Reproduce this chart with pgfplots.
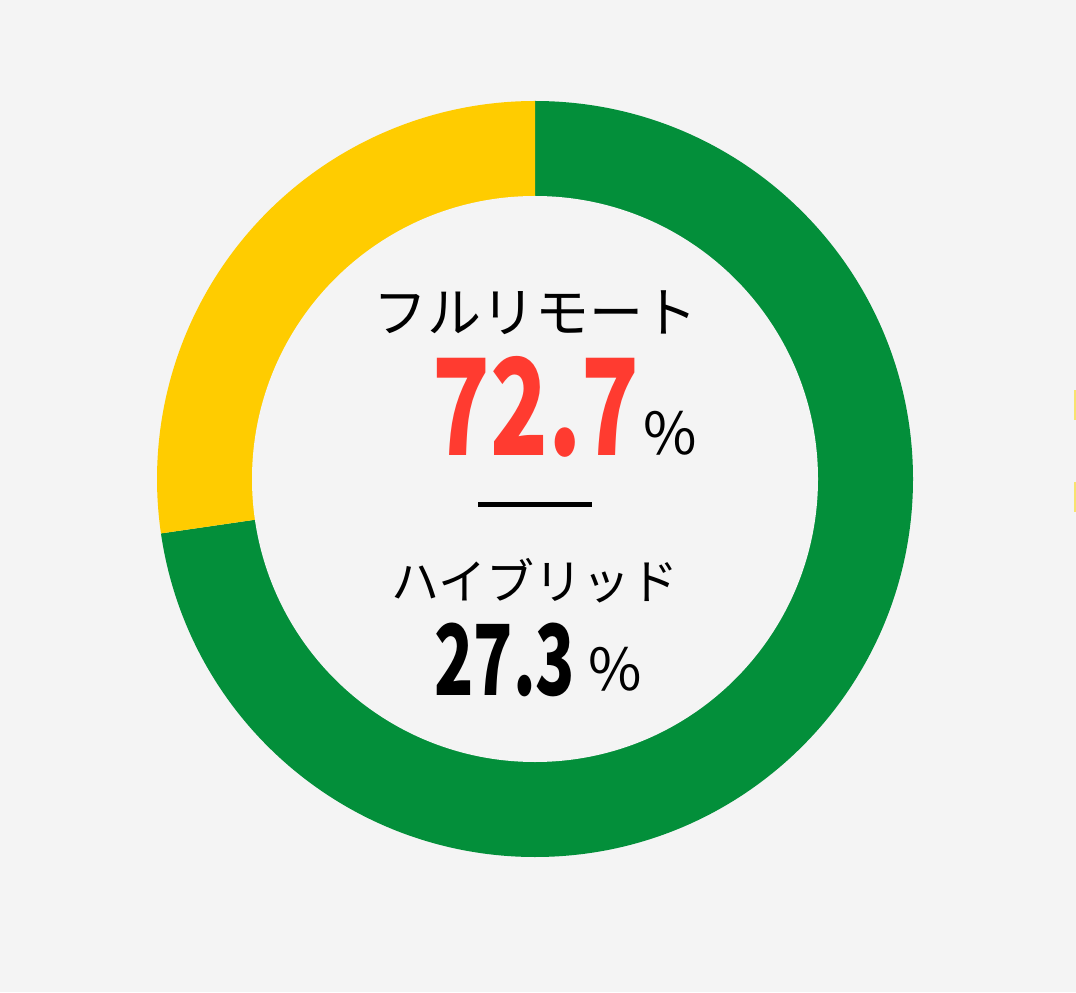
\documentclass[border=0pt]{standalone}
\usepackage{pgfplots}
\pgfplotsset{compat=1.18}
\usepackage{fontspec}
\newfontfamily\jp{Noto Sans CJK JP}
\definecolor{bg}{HTML}{F4F4F4}
\definecolor{cgreen}{HTML}{038F3A}
\definecolor{cyellow}{HTML}{FFCC00}
\definecolor{cred}{HTML}{FF3B30}
\definecolor{cmark}{HTML}{F8E36E}
\def\vRemote{72.7}
\def\vHybrid{27.3}
\begin{document}
\begin{tikzpicture}
\pgfmathsetmacro\angEnd{90-3.6*\vRemote}
\begin{axis}[width=538pt,height=496pt,scale only axis,
  xmin=0,xmax=1076,ymin=0,ymax=992,hide axis,clip=false]
\path[use as bounding box,fill=bg] (axis cs:0,0) rectangle (axis cs:1076,992);
% donut
\fill[cgreen] (axis cs:535,513) -- ++(90:189pt) arc[start angle=90,end angle=\angEnd,radius=189pt] -- cycle;
\fill[cyellow] (axis cs:535,513) -- ++(90:189pt) arc[start angle=90,end angle=\angEnd+360,radius=189pt] -- cycle;
\fill[bg] (axis cs:535,513) circle[radius=141.5pt];
% side marks
\fill[cmark] (axis cs:1074,602) rectangle (axis cs:1076,572);
\fill[cmark] (axis cs:1074,510) rectangle (axis cs:1076,480);
% texts
\node[anchor=base,inner sep=0,font=\jp\fontsize{27}{27}\selectfont] at (axis cs:535,659) {フルリモート};
\node[anchor=base west,inner sep=0,text=cred,font=\jp\bfseries\fontsize{67}{67}\selectfont] at (axis cs:432,536) {\scalebox{0.71}[1]{72.7}};
\node[anchor=base west,inner sep=0,font=\jp\fontsize{29}{29}\selectfont] at (axis cs:643,538) {\%};
\draw[line width=2.5pt] (axis cs:478,487) -- (axis cs:592,487);
\node[anchor=base,inner sep=0,font=\jp\fontsize{24}{24}\selectfont] at (axis cs:535,393) {ハイブリッド};
\node[anchor=base west,inner sep=0,font=\jp\bfseries\fontsize{49}{49}\selectfont] at (axis cs:434,297) {\scalebox{0.66}[1]{27.3}};
\node[anchor=base west,inner sep=0,font=\jp\fontsize{29}{29}\selectfont] at (axis cs:588,302) {\%};
\end{axis}
\end{tikzpicture}
\end{document}
